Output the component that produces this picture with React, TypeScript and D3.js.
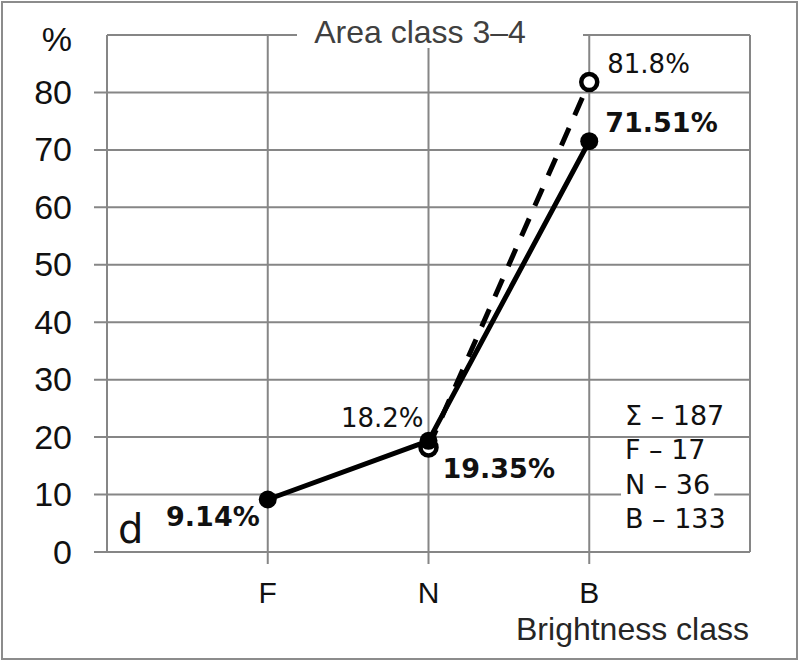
import React, { useEffect, useRef } from "react";
import * as d3 from "d3";

const categories = ["F", "N", "B"];
const solidValues = [9.14, 19.35, 71.51];
const dashedValues: (number | null)[] = [null, 18.2, 81.8];
const solidLabels = ["9.14%", "19.35%", "71.51%"];
const dashedLabels = ["", "18.2%", "81.8%"];
const yTicks = [0, 10, 20, 30, 40, 50, 60, 70, 80];
const legendLines = ["Σ – 187", "F – 17", "N – 36", "B – 133"];

const W = 798;
const H = 662;
const grid = "#868686";
const sans = "'Liberation Sans', Arial, sans-serif";
const tah = "'DejaVu Sans', Tahoma, Verdana, sans-serif";

export default function App() {
  const ref = useRef<SVGSVGElement>(null);

  useEffect(() => {
    const svg = d3.select(ref.current);
    svg.selectAll("*").remove();

    const left = 107, right = 750, top = 35, bottom = 552;
    const x = d3.scalePoint<string>().domain(categories).range([left, right]).padding(1);
    const y = d3.scaleLinear().domain([0, 90]).range([bottom, top]);

    // outer frame
    svg.append("rect")
      .attr("x", 2).attr("y", 2).attr("width", 795).attr("height", 657)
      .attr("fill", "#fff").attr("stroke", "#8c8c8c").attr("stroke-width", 2);

    // horizontal grid (with tick stubs on the left)
    svg.append("g").selectAll("line").data(yTicks).enter().append("line")
      .attr("x1", left - 13).attr("x2", right)
      .attr("y1", d => y(d)).attr("y2", d => y(d))
      .attr("stroke", grid).attr("stroke-width", 2);

    // top border
    svg.append("line").attr("x1", left).attr("x2", right)
      .attr("y1", y(90)).attr("y2", y(90)).attr("stroke", grid).attr("stroke-width", 2);
    // left and right borders
    [left, right].forEach(xx => {
      svg.append("line").attr("x1", xx).attr("x2", xx)
        .attr("y1", y(90)).attr("y2", y(0)).attr("stroke", grid).attr("stroke-width", 2);
    });
    // vertical grid at categories with tick stubs below
    svg.append("g").selectAll("line").data(categories).enter().append("line")
      .attr("x1", d => x(d)!).attr("x2", d => x(d)!)
      .attr("y1", y(90)).attr("y2", y(0) + 12)
      .attr("stroke", grid).attr("stroke-width", 2);

    // title with white box
    svg.append("rect").attr("x", 297).attr("y", 12).attr("width", 286).attr("height", 36).attr("fill", "#fff");
    svg.append("text").attr("x", 420).attr("y", 43).attr("text-anchor", "middle")
      .attr("font-family", sans).attr("font-size", 32).attr("fill", "#404040")
      .text("Area class 3–4");

    // y tick labels
    svg.append("g").selectAll("text").data(yTicks).enter().append("text")
      .attr("x", 72).attr("y", d => y(d)).attr("dy", "0.34em")
      .attr("text-anchor", "end").attr("font-family", sans).attr("font-size", 34)
      .attr("fill", "#111").text(d => d);
    svg.append("text").attr("x", 72).attr("y", 51).attr("text-anchor", "end")
      .attr("font-family", sans).attr("font-size", 34).attr("fill", "#111").text("%");

    // category labels
    svg.append("g").selectAll("text").data(categories).enter().append("text")
      .attr("x", d => x(d)!).attr("y", 603).attr("text-anchor", "middle")
      .attr("font-family", sans).attr("font-size", 30).attr("fill", "#111").text(d => d);

    svg.append("text").attr("x", 749).attr("y", 640).attr("text-anchor", "end")
      .attr("font-family", sans).attr("font-size", 32).attr("fill", "#262626")
      .text("Brightness class");

    // dashed series
    const dashedPts = categories.map((c, i) => ({ c, v: dashedValues[i] })).filter(d => d.v != null) as { c: string; v: number }[];
    const line = d3.line<{ c: string; v: number }>().x(d => x(d.c)!).y(d => y(d.v));
    svg.append("path").datum(dashedPts).attr("d", line)
      .attr("fill", "none").attr("stroke", "#000").attr("stroke-width", 5)
      .attr("stroke-dasharray", "19,14");
    svg.append("g").selectAll("circle").data(dashedPts).enter().append("circle")
      .attr("cx", d => x(d.c)!).attr("cy", d => y(d.v)).attr("r", 8)
      .attr("fill", "#fff").attr("stroke", "#000").attr("stroke-width", 4.5);

    // solid series
    const solidPts = categories.map((c, i) => ({ c, v: solidValues[i] }));
    svg.append("path").datum(solidPts).attr("d", line)
      .attr("fill", "none").attr("stroke", "#000").attr("stroke-width", 5)
      .attr("stroke-linejoin", "round");
    svg.append("g").selectAll("circle").data(solidPts).enter().append("circle")
      .attr("cx", d => x(d.c)!).attr("cy", d => y(d.v)).attr("r", 9).attr("fill", "#000");

    // data labels
    const solidOff = [
      { dx: -8, dy: 27, anchor: "end" },
      { dx: 14, dy: 37, anchor: "start" },
      { dx: 16, dy: -9, anchor: "start" },
    ];
    solidPts.forEach((d, i) => {
      svg.append("text").attr("x", x(d.c)! + solidOff[i].dx).attr("y", y(d.v) + solidOff[i].dy)
        .attr("text-anchor", solidOff[i].anchor).attr("font-family", tah).attr("font-weight", "bold")
        .attr("font-size", 27).attr("fill", "#111").text(solidLabels[i]);
    });
    const dashedOff: Record<string, { dx: number; dy: number; anchor: string }> = {
      N: { dx: -5, dy: -20, anchor: "end" },
      B: { dx: 18, dy: -9, anchor: "start" },
    };
    dashedPts.forEach(d => {
      const o = dashedOff[d.c];
      svg.append("text").attr("x", x(d.c)! + o.dx).attr("y", y(d.v) + o.dy)
        .attr("text-anchor", o.anchor).attr("font-family", tah)
        .attr("font-size", 26).attr("fill", "#111").text(dashedLabels[categories.indexOf(d.c)]);
    });

    // panel letter
    svg.append("text").attr("x", 118).attr("y", 543).attr("font-family", tah)
      .attr("font-size", 40).attr("fill", "#111").text("d");

    // legend counts
    const lg = svg.append("g");
    legendLines.forEach((t, i) => {
      const by = 425 + i * 34.3;
      const r = lg.append("rect").attr("fill", "#fff");
      const tx = lg.append("text").attr("x", 625).attr("y", by).attr("font-family", tah)
        .attr("font-size", 27).attr("fill", "#111").text(t);
      const bb = (tx.node() as SVGTextElement).getBBox();
      r.attr("x", 621).attr("y", bb.y + 4).attr("width", bb.width + 8).attr("height", bb.height - 6);
    });
  }, []);

  return (
    <svg ref={ref} width={W} height={H}
      style={{ position: "absolute", left: 0, top: 0, display: "block", background: "#fff" }} />
  );
}
